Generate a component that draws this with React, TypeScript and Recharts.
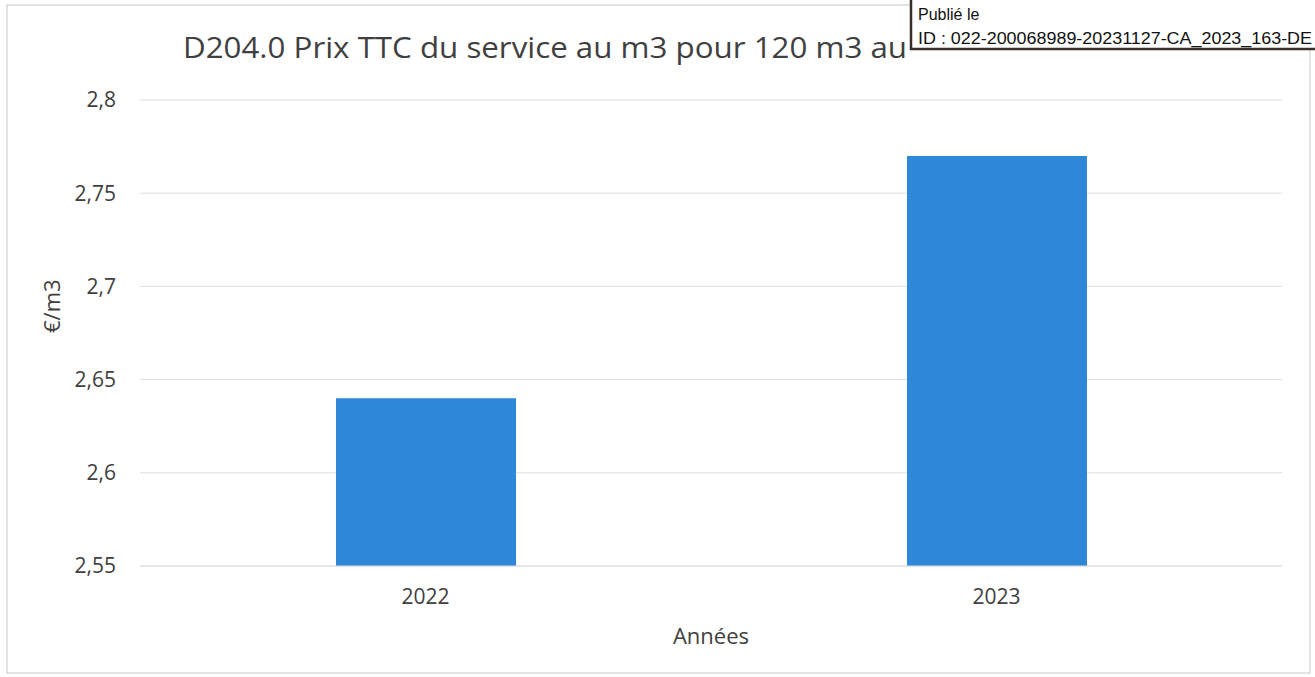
import React from 'react';
import { BarChart, Bar, XAxis, YAxis, CartesianGrid, Label } from 'recharts';

const years = ['2022', '2023'];
const prices = [2.64, 2.77];
const yTicks = [2.55, 2.6, 2.65, 2.7, 2.75, 2.8];

const chartData = years.map((year, i) => ({ year, price: prices[i] }));

const fmt = (v: number) => String(v).replace('.', ',');

const textFont = '"Open Sans", "Noto Sans", sans-serif';
const stampFont = '"Liberation Sans", Arial, sans-serif';

export default function App() {
  return (
    <div style={{ position: 'absolute', left: 0, top: 0, width: 1315, height: 677, background: '#fff' }}>
      <BarChart
        width={1315}
        height={677}
        data={chartData}
        margin={{ top: 100, right: 33, bottom: 41, left: 20 }}
        barSize={180}
      >
        <CartesianGrid vertical={false} stroke="#dedede" />
        <XAxis
          dataKey="year"
          height={70}
          axisLine={{ stroke: '#dedede' }}
          tickLine={false}
          tick={{ fill: '#404040', fontSize: 21, fontFamily: textFont }}
          tickMargin={17}
        >
          <Label value="Années" position="insideBottom" offset={-8} fill="#404040" fontSize={22} fontFamily={textFont} />
        </XAxis>
        <YAxis
          width={120}
          domain={[2.55, 2.8]}
          ticks={yTicks}
          allowDataOverflow
          axisLine={false}
          tickLine={false}
          tickFormatter={fmt}
          tick={{ fill: '#404040', fontSize: 21, fontFamily: textFont }}
          tickMargin={18}
        >
          <Label value="€/m3" angle={-90} position="insideLeft" offset={32} fill="#404040" fontSize={22} fontFamily={textFont} />
        </YAxis>
        <Bar dataKey="price" fill="#2e88d7" isAnimationActive={false} />
      </BarChart>
      <svg width={1315} height={677} style={{ position: 'absolute', left: 0, top: 0, pointerEvents: 'none' }}>
        <rect x={7} y={5} width={1303} height={668} fill="none" stroke="#c8c8c8" strokeWidth={1} />
        <text
          x={183}
          y={58}
          fontSize={30}
          fill="#404040"
          fontFamily={textFont}
          textLength={724}
          lengthAdjust="spacingAndGlyphs"
        >
          D204.0 Prix TTC du service au m3 pour 120 m3 au
        </text>
        <rect x={911} y={-4} width={420} height={53} fill="#fff" stroke="#3b2c2c" strokeWidth={2.5} />
        <text x={918} y={20} fontSize={16} fontWeight={500} fill="#111" fontFamily={stampFont}>
          Publié le
        </text>
        <text
          x={918}
          y={44}
          fontSize={16}
          fontWeight={500}
          fill="#111"
          fontFamily={stampFont}
          textLength={394}
          lengthAdjust="spacingAndGlyphs"
        >
          ID : 022-200068989-20231127-CA_2023_163-DE
        </text>
      </svg>
    </div>
  );
}
